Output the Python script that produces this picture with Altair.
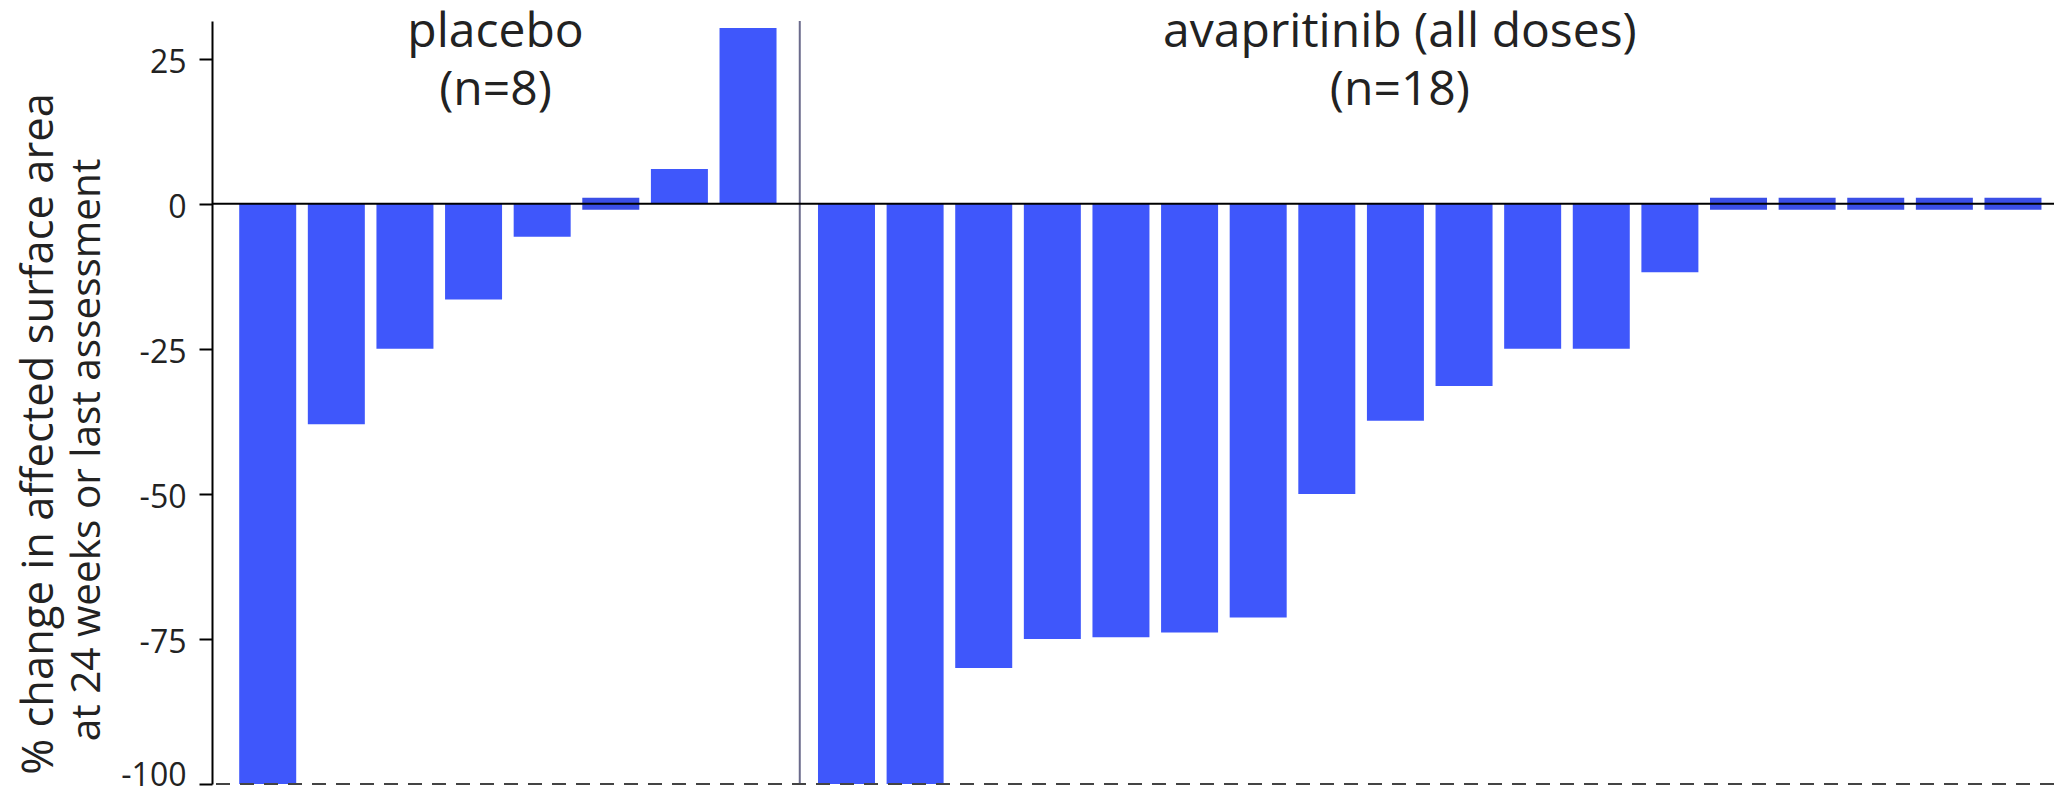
import altair as alt
import pandas as pd

# ---- data ----
PLACEBO_VALUES = [-100, -38, -25, -16.5, -5.7, 0, 6, 30.3]
AVAP_VALUES = [-100, -100, -80, -75, -74.7, -73.9, -71.3, -50, -37.4, -31.4,
               -25, -25, -11.8, 0, 0, 0, 0, 0]
GROUPS = ["placebo", "avapritinib (all doses)"]
GROUP_N = [8, 18]
Y_TICKS = [25, 0, -25, -50, -75, -100]
Y_TITLE = ["% change in affected surface area", "at 24 weeks or last assessment"]

# ---- layout constants (slot units of the x scale) ----
GROUP_GAP = 0.435
SEPARATOR_SLOT = 7.754
LABEL_SLOTS = [3.32, 16.50]
X_DOMAIN = [-0.739, 25.96]
Y_DOMAIN = [-100, 31.5]

BLUE = "#3f57fb"
BLUE_ZERO = "#3a4ee6"
TEXT = "#222222"
FONT = "Open Sans"

rows = []
for gi, (g, vals) in enumerate(zip(GROUPS, [PLACEBO_VALUES, AVAP_VALUES])):
    offset = 0 if gi == 0 else len(PLACEBO_VALUES) + GROUP_GAP
    for i, v in enumerate(vals):
        rows.append({"group": g, "slot": offset + i, "value": v})
df = pd.DataFrame(rows)

labels = pd.DataFrame({
    "slot": LABEL_SLOTS,
    "lines": [[g, f"(n={n})"] for g, n in zip(GROUPS, GROUP_N)],
})
one = pd.DataFrame({"k": [0]})
title1 = pd.DataFrame({"t": [Y_TITLE[0]]})
title2 = pd.DataFrame({"t": [Y_TITLE[1]]})

x = alt.X("slot:Q", scale=alt.Scale(domain=X_DOMAIN, nice=False, zero=False), axis=None)
y = alt.Y(
    "value:Q",
    scale=alt.Scale(domain=Y_DOMAIN, nice=False, zero=False),
    axis=alt.Axis(
        values=Y_TICKS, title=None, grid=False,
        domainColor="black", domainWidth=2, tickColor="black", tickWidth=2, tickSize=13,
        labelFontSize=32, labelFont=FONT, labelColor=TEXT, labelPadding=13,
        labelOffset=4, labelFlush=True, labelFlushOffset=4,
        labelExpr="toString(datum.value)",
    ),
)

bars = alt.Chart(df).mark_bar(size=57, color=BLUE).encode(x=x, y=y, y2=alt.datum(0))
zero_bars = (
    alt.Chart(df)
    .transform_filter("datum.value == 0")
    .mark_tick(orient="horizontal", size=57, thickness=12, color=BLUE_ZERO, opacity=1)
    .encode(x=x, y=y)
)
zero_line = alt.Chart(one).mark_rule(color="black", strokeWidth=2).encode(y=alt.datum(0))
bottom_line = alt.Chart(one).mark_rule(color="#444444", strokeWidth=2, strokeDash=[14, 10]).encode(
    y=alt.datum(-100)
)
separator = alt.Chart(one).mark_rule(color="#6b6b8c", strokeWidth=2).encode(x=alt.datum(SEPARATOR_SLOT))
texts = alt.Chart(labels).mark_text(
    fontSize=48, font=FONT, color=TEXT, baseline="alphabetic", align="center", lineHeight=58
).encode(x=alt.X("slot:Q"), y=alt.value(26), text="lines")

ytitle1 = alt.Chart(title1).mark_text(
    fontSize=43.5, font=FONT, color=TEXT, angle=270, baseline="alphabetic", align="center"
).encode(x=alt.value(-159), y=alt.value(413), text="t")
ytitle2 = alt.Chart(title2).mark_text(
    fontSize=40.5, font=FONT, color=TEXT, angle=270, baseline="alphabetic", align="center"
).encode(x=alt.value(-112), y=alt.value(429), text="t")

chart = (
    alt.layer(bars, zero_bars, separator, zero_line, bottom_line, texts, ytitle1, ytitle2)
    .properties(
        width=1842, height=763,
        autosize=alt.AutoSizeParams(type="none"),
        padding={"left": 204, "top": 13, "right": 0, "bottom": 4},
        background="white",
    )
    .configure_view(stroke=None)
)

chart.save("out.html", embed_options={"renderer": "svg", "actions": False})
